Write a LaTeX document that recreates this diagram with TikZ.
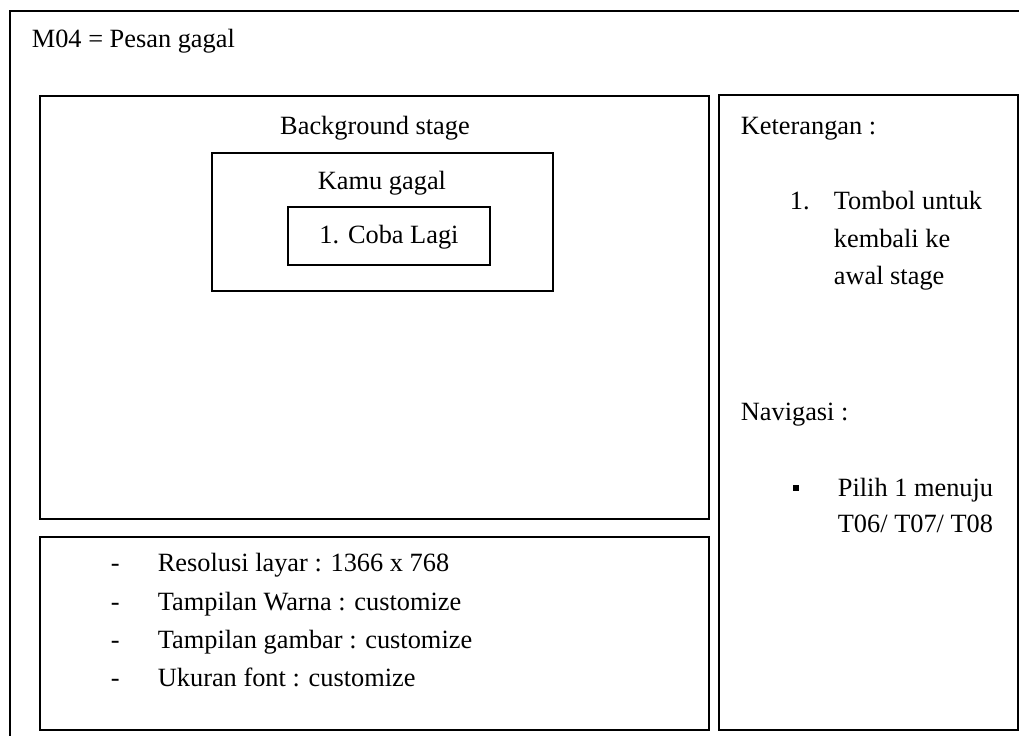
\documentclass[tikz,border=0pt]{standalone}
\usepackage{fontspec}
\setmainfont{Liberation Serif}
\usetikzlibrary{positioning}

\begin{document}
\begin{tikzpicture}[x=0.02cm, y=-0.02cm, line width=1pt,
  every node/.style={font=\fontsize{15}{20}\selectfont, inner sep=0pt}]
\tikzstyle{lbl}=[anchor=base west]
\tikzstyle{mid}=[anchor=base]
\tikzstyle{dot}=[fill, minimum size=0.13cm]
\useasboundingbox (0,0) rectangle (1019,736);
\clip (0,0) rectangle (1019,736);

% frame and panels
\draw (10,11) rectangle (1040,760);
\draw (40,96) rectangle (709,519);
\draw (40,537) rectangle (709,730);
\draw (719,95) rectangle (1018,730);
\draw (212,153) rectangle (553,291);
\draw (288,207) rectangle (490,265);

\node[lbl] (title) at (31,48) {M04 = Pesan gagal};

% stage
\node[mid] (stage) at (375,135) {Background stage};
\node[mid] (gagal) at (382,190) {Kamu gagal};
\node[mid] (coba) at (389,244) {1. Coba Lagi};

% specs
\node[lbl] (d1) at (110,572) {-};
\node[lbl] (s1) at (157,572) {Resolusi layar : 1366 x 768};
\node[lbl] (d2) at (110,611) {-};
\node[lbl] (s2) at (157,611) {Tampilan Warna : customize};
\node[lbl] (d3) at (110,649) {-};
\node[lbl] (s3) at (157,649) {Tampilan gambar : customize};
\node[lbl] (d4) at (110,687) {-};
\node[lbl] (s4) at (157,687) {Ukuran font : customize};

% side notes
\node[lbl] (ket) at (740,135) {Keterangan :};
\node[lbl] (n1) at (789,210) {1.};
\node[lbl] (k1) at (833,210) {Tombol untuk};
\node[lbl] (k2) at (833,248) {kembali ke};
\node[lbl] (k3) at (833,285) {awal stage};
\node[lbl] (nav) at (740,421) {Navigasi :};
\node[dot] (b1) at (796,488) {};
\node[lbl] (p1) at (837,497) {Pilih 1 menuju};
\node[lbl] (p2) at (837,533) {T06/ T07/ T08};
\end{tikzpicture}
\end{document}
